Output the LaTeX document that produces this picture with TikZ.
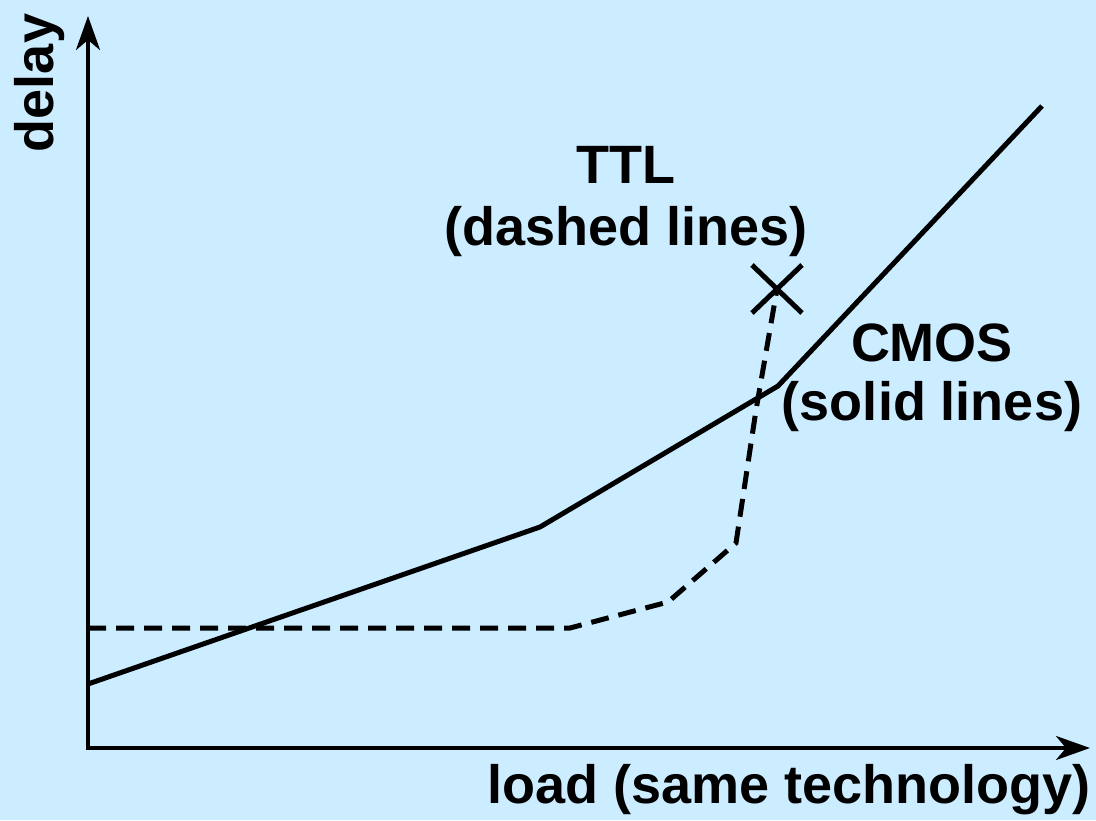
\documentclass[tikz,border=0pt]{standalone}
\usepackage{fontspec}
\setmainfont{Liberation Sans}
\usetikzlibrary{arrows.meta,calc}
\definecolor{bg}{RGB}{204,236,255}
\begin{document}
\begin{tikzpicture}[x=1pt,y=-1pt,
  lbl/.style={font=\fontsize{54}{60}\selectfont\bfseries, inner sep=0pt},
  curve/.style={line width=5pt, line join=miter},
  dashcurve/.style={curve, dash pattern=on 18pt off 10pt},
  axis/.style={line width=4pt, -{Stealth[length=34pt,width=24pt,inset=10pt]}}]
\fill[bg] (0,0) rectangle (1096,820);
\useasboundingbox (0,0) rectangle (1096,820);
\coordinate (o) at (88,748);
\coordinate (ytop) at (88,16);
\coordinate (xend) at (1090,748);
\draw[axis] (88,750) -- (ytop);
\draw[axis] (86,748) -- (xend);
% CMOS solid
\coordinate (c0) at (88,684);
\coordinate (c1) at (540,527);
\coordinate (c2) at (778,386);
\coordinate (c3) at (1042,106);
\draw[curve] (c0) -- (c1) -- (c2) -- (c3);
% TTL dashed
\coordinate (t0) at (88,628);
\coordinate (t1) at (570,628);
\coordinate (t2) at (668,602);
\coordinate (t3) at (736,543);
\coordinate (t4) at (756,410);
\coordinate (x) at (777,289);
\draw[dashcurve] (t0) -- (t1) -- (t2) -- (t3) -- (t4) -- (x);
\draw[line width=5pt] ($(x)+(-25,-24)$) -- ($(x)+(25,24)$);
\draw[line width=5pt] ($(x)+(25,-24)$) -- ($(x)+(-25,24)$);
\node[lbl, rotate=90] (dl) at (40,83) {delay};
\node[lbl] (ttl) at (626,165) {TTL};
\node[lbl] (ttl2) at (626,232) {(dashed lines)};
\node[lbl] (cm) at (932,343) {CMOS};
\node[lbl] (cm2) at (932,407) {(solid lines)};
\node[lbl] (ld) at (789,790) {load (same technology)};
\end{tikzpicture}
\end{document}
